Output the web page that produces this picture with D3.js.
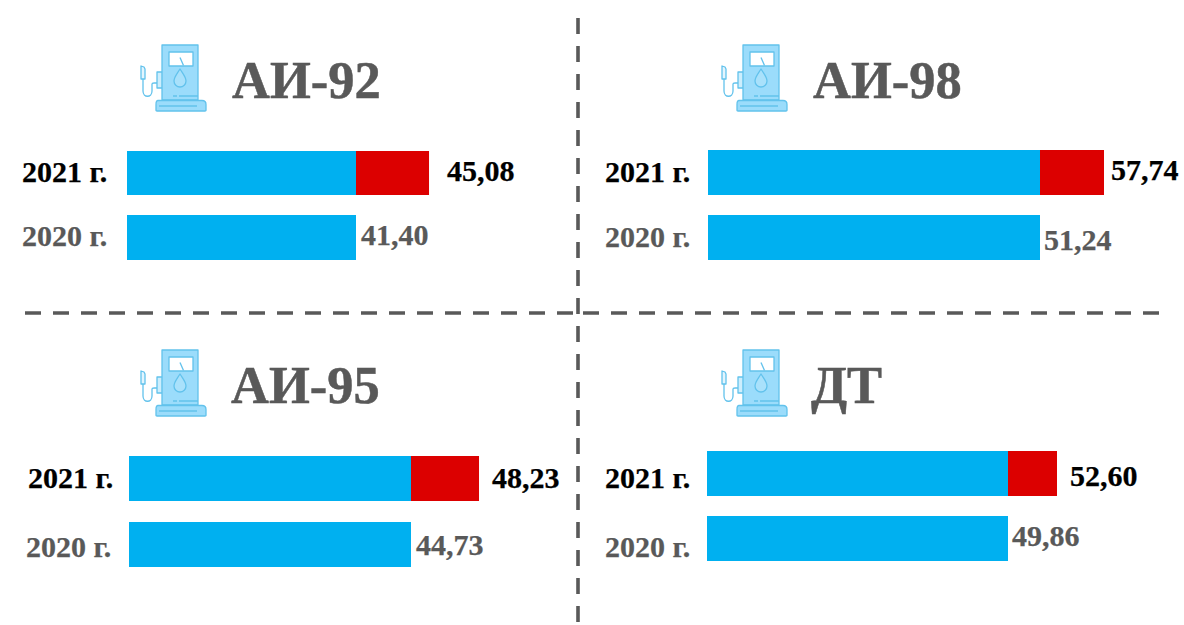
<!DOCTYPE html>
<html><head><meta charset="utf-8">
<script src="https://cdn.jsdelivr.net/npm/d3@7"></script>
<style>html,body{margin:0;padding:0;background:#fff}svg{display:block}text{font-family:"Liberation Serif",serif;font-weight:700}</style>
</head><body>
<div id="chart"></div>
<script>
// Data
const fuels = ["АИ-92", "АИ-98", "АИ-95", "ДТ"];
const years = ["2021 г.", "2020 г."];
const values2020 = [41.40, 51.24, 44.73, 49.86];
const values2021 = [45.08, 57.74, 48.23, 52.60];
const axisStart = [29.86, 17.52, 30.22, 33.03]; // each panel has its own truncated axis

// Layout
const panels = [
  {bx:127, bw:229, y21:151, y20:215, h21:44, h20:45, icon:[137,44], title:[232,98], lab:[[22,182],[22,246]], val:[[447,181],[361,245]]},
  {bx:708, bw:332, y21:150, y20:215, h21:45, h20:45, icon:[718,44], title:[813,98], lab:[[605,182],[605,247]], val:[[1111,180],[1044,250]]},
  {bx:129, bw:282, y21:456, y20:522, h21:45, h20:45, icon:[137,349], title:[231,403], lab:[[28,488],[26,557]], val:[[492,488],[416,555]]},
  {bx:707, bw:301, y21:451, y20:516, h21:45, h20:45, icon:[718,349], title:[811,403], lab:[[605,488],[605,557]], val:[[1070,486],[1012,546]]}
];
const BLUE="#00B0F0", RED="#DC0000", GREY="#595959";
const fmt = v => v.toFixed(2).replace(".", ",");

const svg = d3.select("#chart").append("svg").attr("width",1184).attr("height",625);
const defs = svg.append("defs");
defs.append("filter").attr("id","soft").append("feGaussianBlur").attr("stdDeviation",0.4);

// separators
const seps = [[578,18,578,625],[25,313,573,313],[583,313,1160,313]];
svg.selectAll("line.sep").data(seps).join("line").attr("class","sep")
  .attr("x1",d=>d[0]).attr("y1",d=>d[1]).attr("x2",d=>d[2]).attr("y2",d=>d[3])
  .attr("stroke",GREY).attr("stroke-width",3.6).attr("stroke-dasharray","16 12");

function drawIcon(g){
  const s="#62C2EC", f="#9BDCFB";
  const common = sel => sel.attr("stroke",s).attr("stroke-width",1.3).attr("stroke-linejoin","round");
  g.attr("filter","url(#soft)");
  common(g.append("path").attr("d","M20 28h5.5v16h-5.500z").attr("fill","#CDEEFD"));
  common(g.append("rect").attr("x",25).attr("y",1).attr("width",36).attr("height",55).attr("fill",f));
  common(g.append("path").attr("d","M21 56.500h44q4 0 4 4v6q0 .5-1 .5h-48q-1 0-1-.5v-6q0-4 2-4z").attr("fill",f));
  common(g.append("rect").attr("x",32).attr("y",8).attr("width",24).attr("height",14).attr("fill","#fff"));
  common(g.append("path").attr("d","M43 13.500l3.500 8").attr("fill","none"));
  common(g.append("path").attr("d","M43 25c-3 5-6 8-6 12a6 6 0 0 0 12 0c0-4-3-7-6-12z").attr("fill","#A9E1FB"));
  common(g.append("path").attr("d","M36 52h4M42 52h19M22 62h38").attr("fill","none"));
  common(g.append("path").attr("d","M6 35v12c0 7 9 7 9 0v-7q0-1 2-1h3").attr("fill","none"));
  common(g.append("path").attr("d","M4 22l3 1 1 2v10h-4z").attr("fill","#E3F5FE"));
}

panels.forEach((p,i)=>{
  const x = d3.scaleLinear().domain([axisStart[i], values2020[i]]).range([p.bx, p.bx+p.bw]);
  const g = svg.append("g");
  drawIcon(g.append("g").attr("transform",`translate(${p.icon[0]},${p.icon[1]})`));
  g.append("text").attr("x",p.title[0]).attr("y",p.title[1]).attr("font-size",52.5).attr("fill",GREY)
    .attr("stroke",GREY).attr("stroke-width",0.5).text(fuels[i]);

  const bars = [
    {y:p.y21,h:p.h21,from:axisStart[i],to:values2020[i],c:BLUE},
    {y:p.y21,h:p.h21,from:values2020[i],to:values2021[i],c:RED},
    {y:p.y20,h:p.h20,from:axisStart[i],to:values2020[i],c:BLUE}
  ];
  g.selectAll("rect.bar").data(bars).join("rect").attr("class","bar")
    .attr("x",d=>x(d.from)).attr("width",d=>x(d.to)-x(d.from))
    .attr("y",d=>d.y).attr("height",d=>d.h).attr("fill",d=>d.c);

  const texts = [
    {t:years[0],pos:p.lab[0],c:"#000"},
    {t:years[1],pos:p.lab[1],c:GREY},
    {t:fmt(values2021[i]),pos:p.val[0],c:"#000"},
    {t:fmt(values2020[i]),pos:p.val[1],c:GREY}
  ];
  g.selectAll("text.lbl").data(texts).join("text").attr("class","lbl")
    .attr("x",d=>d.pos[0]).attr("y",d=>d.pos[1]).attr("font-size",30).attr("fill",d=>d.c)
    .attr("stroke",d=>d.c).attr("stroke-width",0.25).text(d=>d.t);
});
</script>
</body></html>
